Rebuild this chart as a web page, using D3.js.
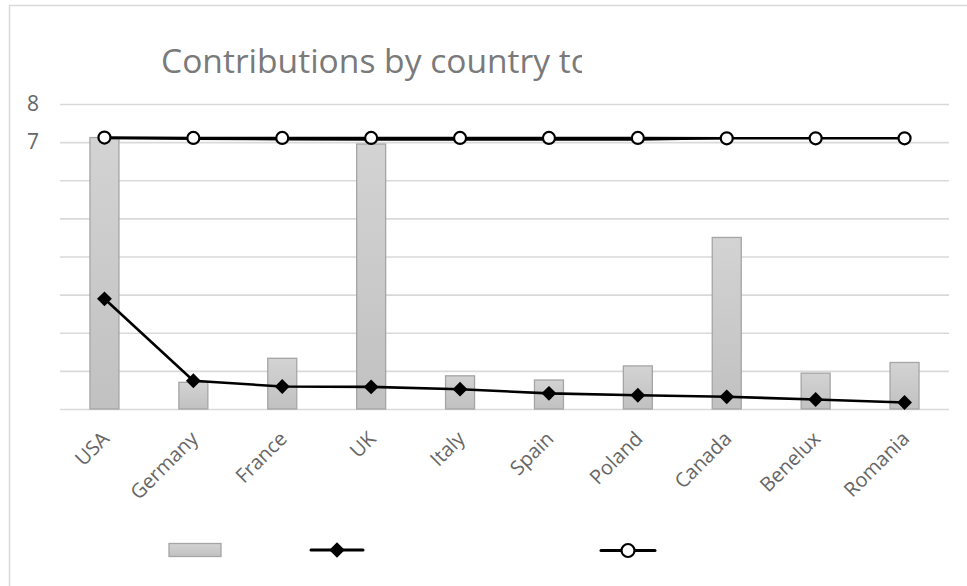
<!DOCTYPE html>
<html>
<head>
<meta charset="utf-8">
<script src="https://cdn.jsdelivr.net/npm/d3@7"></script>
<style>
  html, body { margin: 0; padding: 0; background: #fff; }
  svg { display: block; }
</style>
</head>
<body>
<svg id="chart" width="967" height="586"></svg>
<script>
// ---- data ----
const categories = ["USA", "Germany", "France", "UK", "Italy", "Spain", "Poland", "Canada", "Benelux", "Romania"];
const barValues = [7.12, 0.70, 1.33, 6.95, 0.87, 0.76, 1.13, 4.50, 0.94, 1.22];
const diamondValues = [2.89, 0.74, 0.59, 0.58, 0.52, 0.41, 0.36, 0.32, 0.25, 0.17];
const circleValues = [7.12, 7.11, 7.11, 7.11, 7.11, 7.11, 7.11, 7.10, 7.10, 7.10];
const shadowLineValues = [7.10, 7.08, 7.07, 7.06, 7.06, 7.06, 7.06, 7.10];
const yTicks = [0, 1, 2, 3, 4, 5, 6, 7, 8];
const yTickLabels = ["", "", "", "", "", "", "", "7", "8"];
const titleText = "Contributions by country to";

// ---- layout ----
const svg = d3.select("#chart");
const plot = { left: 60, right: 949, top: 104, bottom: 409 };
const labelFont = "'Open Sans', 'Noto Sans', sans-serif";

// chart border (only left/top visible)
svg.append("rect")
  .attr("x", 9.5).attr("y", 5.5)
  .attr("width", 1000).attr("height", 1000)
  .attr("fill", "none").attr("stroke", "#d9d9d9").attr("stroke-width", 1.5);

const x = d3.scaleBand().domain(categories)
  .range([plot.left, plot.right])
  .paddingInner(0.674).paddingOuter(0.337);
const cx = d => x(d) + x.bandwidth() / 2;
const y = d3.scaleLinear().domain([0, 8]).range([plot.bottom, plot.top]);

// title (clipped)
const defs = svg.append("defs");
defs.append("clipPath").attr("id", "titleClip")
  .append("rect").attr("x", 0).attr("y", 0).attr("width", 582).attr("height", 100);
const grad = defs.append("linearGradient").attr("id", "barGrad")
  .attr("x1", 0).attr("y1", 0).attr("x2", 0).attr("y2", 1);
grad.append("stop").attr("offset", "0%").attr("stop-color", "#d3d3d3");
grad.append("stop").attr("offset", "100%").attr("stop-color", "#c1c1c1");

const title = svg.append("text")
  .attr("clip-path", "url(#titleClip)")
  .attr("x", 161).attr("y", 73)
  .attr("font-family", labelFont)
  .attr("font-size", 28)
  .attr("fill", "#7a7a7a")
  .text(titleText);
// fit "Contributions by country t" to about 410px
(function fitTitle() {
  const probe = svg.append("text").attr("font-family", labelFont).attr("font-size", 28)
    .text(titleText.slice(0, -1));
  const w = probe.node().getComputedTextLength();
  probe.remove();
  if (w > 0) title.attr("font-size", 28 * 410 / w);
})();

// gridlines + y labels via axis
const yAxis = d3.axisLeft(y).tickValues(yTicks)
  .tickSize(-(plot.right - plot.left))
  .tickFormat((d, i) => yTickLabels[i]);
const gy = svg.append("g").attr("transform", `translate(${plot.left},0)`).call(yAxis);
gy.select(".domain").remove();
gy.selectAll(".tick line").attr("stroke", "#d9d9d9").attr("stroke-width", 1.6);
gy.selectAll(".tick text")
  .attr("x", -21)
  .attr("font-family", labelFont).attr("font-size", 21)
  .attr("fill", "#666");

// bars
svg.append("g").selectAll("rect").data(categories).join("rect")
  .attr("x", d => x(d))
  .attr("y", (d, i) => y(barValues[i]))
  .attr("width", x.bandwidth())
  .attr("height", (d, i) => y(0) - y(barValues[i]))
  .attr("fill", "url(#barGrad)")
  .attr("stroke", "#a5a5a5").attr("stroke-width", 1.3);

// x labels via axis
const xAxis = d3.axisBottom(x).tickSize(0).tickPadding(0);
const gx = svg.append("g").attr("transform", `translate(0,${plot.bottom})`).call(xAxis);
gx.select(".domain").remove();
gx.selectAll(".tick text")
  .attr("font-family", labelFont).attr("font-size", 20)
  .attr("fill", "#666")
  .attr("text-anchor", "end")
  .attr("dy", 0)
  .attr("transform", "translate(6,31) rotate(-45)");

// lines
const line = vals => d3.line().x((d, i) => cx(categories[i])).y(d => y(d))(vals);

svg.append("path").attr("d", line(shadowLineValues))
  .attr("fill", "none").attr("stroke", "#000").attr("stroke-width", 2);
svg.append("path").attr("d", line(circleValues))
  .attr("fill", "none").attr("stroke", "#000").attr("stroke-width", 2.6);
svg.append("path").attr("d", line(diamondValues))
  .attr("fill", "none").attr("stroke", "#000").attr("stroke-width", 2.6);

// markers
const diamond = d3.symbol(d3.symbolSquare, 110);
svg.append("g").selectAll("path").data(diamondValues).join("path")
  .attr("d", diamond)
  .attr("transform", (d, i) => `translate(${cx(categories[i])},${y(d)}) rotate(45)`)
  .attr("fill", "#000");
svg.append("g").selectAll("circle").data(circleValues).join("circle")
  .attr("cx", (d, i) => cx(categories[i])).attr("cy", d => y(d))
  .attr("r", 6).attr("fill", "#fff").attr("stroke", "#000").attr("stroke-width", 2.2);

// legend (no text)
const lg = svg.append("g");
lg.append("rect").attr("x", 169).attr("y", 543.5).attr("width", 52).attr("height", 13)
  .attr("fill", "url(#barGrad)").attr("stroke", "#a5a5a5").attr("stroke-width", 1.3);
lg.append("line").attr("x1", 311).attr("x2", 363).attr("y1", 550).attr("y2", 550)
  .attr("stroke", "#000").attr("stroke-width", 3).attr("stroke-linecap", "round");
lg.append("path").attr("d", d3.symbol(d3.symbolSquare, 120))
  .attr("transform", "translate(337,550) rotate(45)").attr("fill", "#000");
lg.append("line").attr("x1", 601).attr("x2", 655).attr("y1", 550.5).attr("y2", 550.5)
  .attr("stroke", "#000").attr("stroke-width", 3).attr("stroke-linecap", "round");
lg.append("circle").attr("cx", 628).attr("cy", 550.5).attr("r", 6.5)
  .attr("fill", "#fff").attr("stroke", "#000").attr("stroke-width", 2.2);
</script>
</body>
</html>
